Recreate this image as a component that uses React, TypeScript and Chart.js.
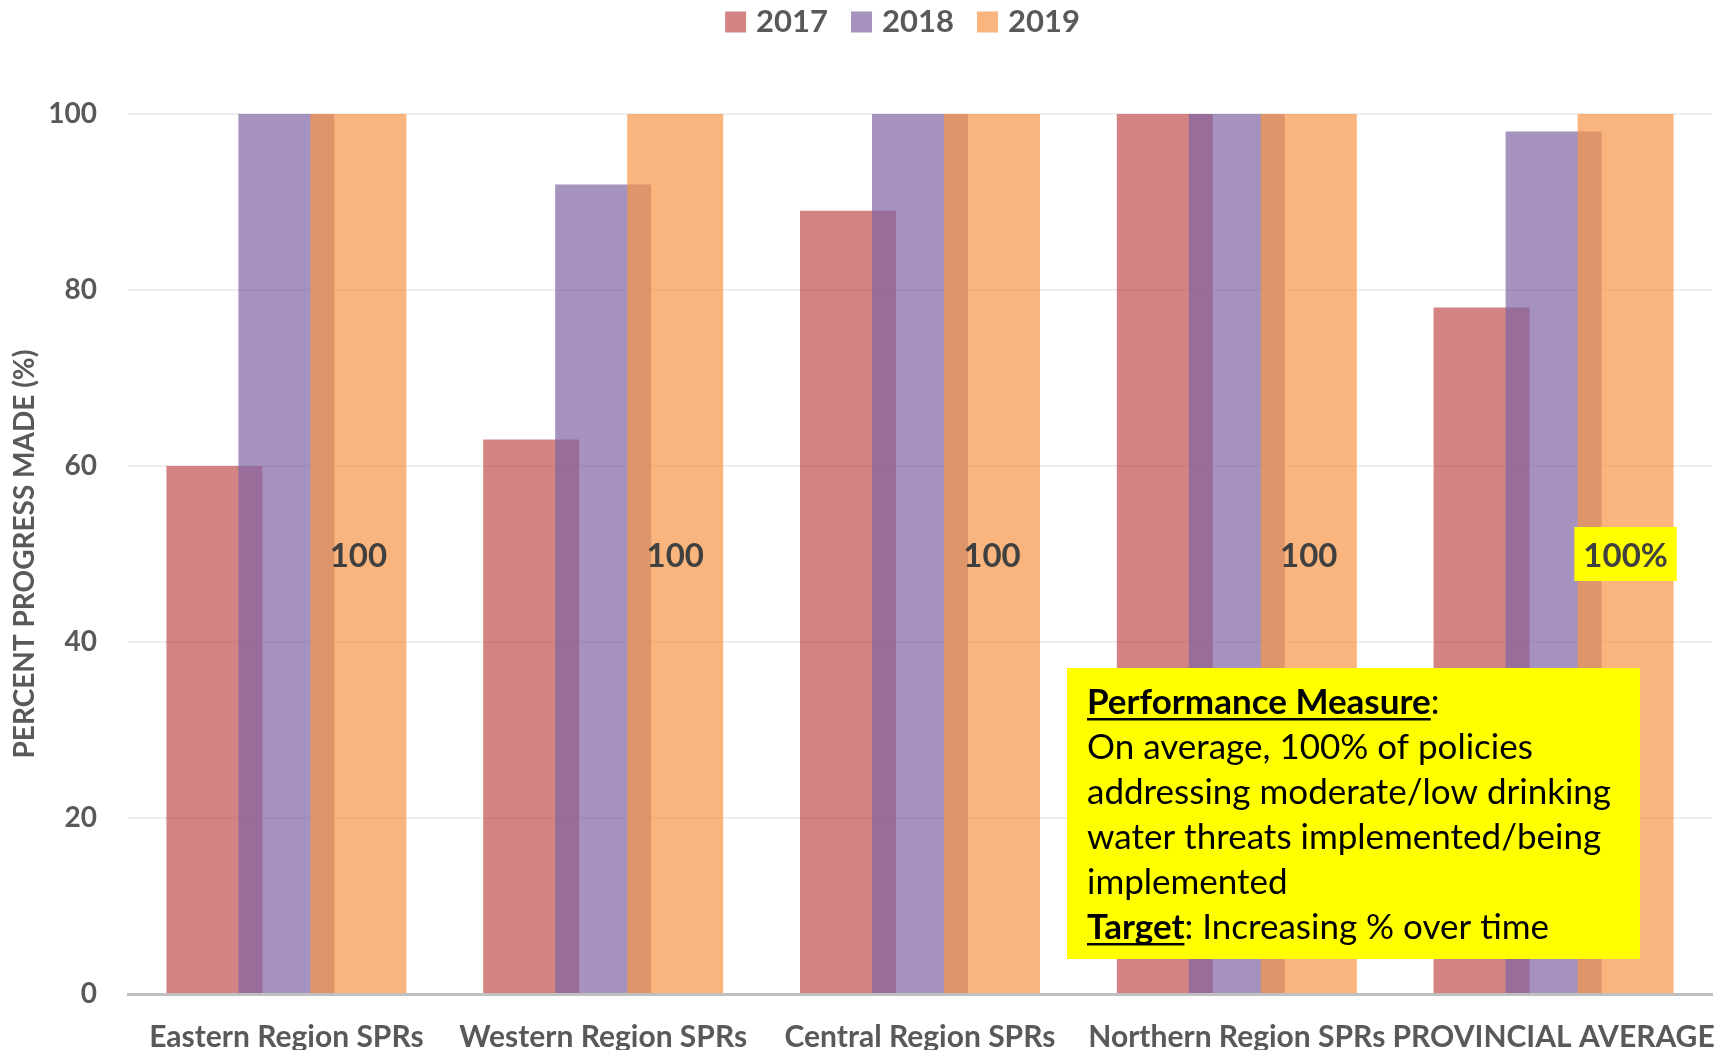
import React, { useEffect, useRef } from 'react';
import { Chart, registerables } from 'chart.js';

Chart.register(...registerables);

// ---------- data ----------
const categories = [
  'Eastern Region SPRs',
  'Western Region SPRs',
  'Central Region SPRs',
  'Northern Region SPRs',
  'PROVINCIAL AVERAGE',
];
const seriesNames = ['2017', '2018', '2019'];
const values2017 = [60, 63, 89, 100, 78];
const values2018 = [100, 92, 100, 100, 98];
const values2019 = [100, 100, 100, 100, 100];
const labels2019 = ['100', '100', '100', '100', '100%'];
const highlight2019 = [false, false, false, false, true];
const yTicks = [0, 20, 40, 60, 80, 100];
const yTitle = 'PERCENT PROGRESS MADE (%)';

type Seg = { text: string; bold?: boolean; underline?: boolean };
const noteLines: Seg[][] = [
  [{ text: 'Performance Measure', bold: true, underline: true }, { text: ':' }],
  [{ text: 'On average, 100% of policies' }],
  [{ text: 'addressing moderate/low drinking' }],
  [{ text: 'water threats implemented/being' }],
  [{ text: 'implemented' }],
  [{ text: 'Target', bold: true, underline: true }, { text: ': Increasing % over time' }],
];

// ---------- styles ----------
const seriesColors = ['rgba(192,80,77,0.7)', 'rgba(128,100,162,0.7)', 'rgba(247,150,70,0.7)'];
const FONT = 'Lato';
const GRAY = '#595959';

const drawOrderPlugin = {
  id: 'drawOrder',
  beforeDatasetsDraw(chart: any) {
    const n = chart.data.datasets.length;
    for (let i = 0; i < n; i++) {
      const meta = chart.getDatasetMeta(i);
      if (!meta.hidden) meta.controller.draw();
    }
    return false;
  },
};

const overlayPlugin = {
  id: 'overlay',
  afterDraw(chart: any) {
    const ctx: CanvasRenderingContext2D = chart.ctx;
    const yScale = chart.scales.y;

    // value labels on the 2019 series
    const meta = chart.getDatasetMeta(2);
    ctx.save();
    ctx.font = `bold 33px ${FONT}`;
    ctx.textAlign = 'center';
    ctx.textBaseline = 'middle';
    meta.data.forEach((bar: any, i: number) => {
      const cx = bar.x;
      const cy = yScale.getPixelForValue(values2019[i] / 2);
      const txt = labels2019[i];
      if (highlight2019[i]) {
        const w = ctx.measureText(txt).width;
        ctx.fillStyle = '#FFFF00';
        ctx.fillRect(cx - w / 2 - 9, cy - 27, w + 18, 54);
      }
      ctx.fillStyle = '#404040';
      ctx.fillText(txt, cx, cy + 2);
    });
    ctx.restore();

    // legend
    ctx.save();
    ctx.font = `bold 31px ${FONT}`;
    ctx.textBaseline = 'middle';
    ctx.textAlign = 'left';
    const box = 21, gapText = 10, gapItem = 23;
    const widths = seriesNames.map((s) => ctx.measureText(s).width);
    let total = 0;
    widths.forEach((w, i) => {
      total += box + gapText + w + (i < widths.length - 1 ? gapItem : 0);
    });
    let x = 902.5 - total / 2;
    seriesNames.forEach((s, i) => {
      ctx.fillStyle = '#ffffff';
      ctx.fillRect(x, 11.5, box, box);
      ctx.fillStyle = seriesColors[i];
      ctx.fillRect(x, 11.5, box, box);
      ctx.fillStyle = GRAY;
      ctx.fillText(s, x + box + gapText, 22);
      x += box + gapText + widths[i] + gapItem;
    });
    ctx.restore();

    // annotation box
    ctx.save();
    ctx.fillStyle = '#FFFF00';
    ctx.fillRect(1067, 668, 573, 291);
    ctx.fillStyle = '#000000';
    ctx.textBaseline = 'alphabetic';
    ctx.textAlign = 'left';
    const baseY = 714;
    const lineH = 45;
    noteLines.forEach((line, li) => {
      let tx = 1087;
      const by = baseY + li * lineH;
      line.forEach((seg) => {
        ctx.font = `${seg.bold ? 'bold ' : ''}35px ${FONT}`;
        const w = ctx.measureText(seg.text).width;
        ctx.fillText(seg.text, tx, by);
        if (seg.underline) {
          ctx.fillRect(tx, by + 4, w, 2.5);
        }
        tx += w;
      });
    });
    ctx.restore();
  },
};

export default function App() {
  const ref = useRef<HTMLCanvasElement>(null);

  useEffect(() => {
    document.body.style.margin = '0';
    let chart: Chart | null = null;
    let cancelled = false;

    const make = () => {
      if (cancelled || !ref.current) return;
      const datasets = [values2017, values2018, values2019].map((vals, i) => ({
        label: seriesNames[i],
        data: vals,
        backgroundColor: seriesColors[i],
        borderWidth: 0,
        categoryPercentage: 0.6818,
        barPercentage: 1.3333,
      }));
      chart = new Chart(ref.current, {
        type: 'bar',
        data: { labels: categories, datasets },
        options: {
          animation: false,
          responsive: false,
          devicePixelRatio: 1,
          layout: { padding: { top: 114, right: 7, left: 0, bottom: 0 } },
          plugins: {
            legend: { display: false },
            tooltip: { enabled: false },
          },
          scales: {
            x: {
              z: 1,
              grid: { display: false, drawTicks: false },
              border: { display: true, color: '#BFBFBF', width: 3 },
              ticks: {
                color: GRAY,
                font: { family: FONT, weight: 'bold', size: 30 },
                padding: 25,
                maxRotation: 0,
                autoSkip: false,
              },
              afterFit: (s: any) => {
                s.height = 56;
                s.paddingLeft = 0;
                s.paddingRight = 0;
              },
            },
            y: {
              min: 0,
              max: 100,
              afterBuildTicks: (s: any) => {
                s.ticks = yTicks.map((v) => ({ value: v }));
              },
              grid: { color: '#EEEEEE', lineWidth: 2, drawTicks: false },
              border: { display: false },
              ticks: {
                color: GRAY,
                font: { family: FONT, weight: 'bold', size: 28 },
                padding: 31,
              },
              title: {
                display: true,
                text: yTitle,
                color: GRAY,
                font: { family: FONT, weight: 'bold', size: 28 },
                padding: { top: 8, bottom: 0 },
              },
              afterFit: (s: any) => {
                s.width = 128;
              },
            },
          },
        },
        plugins: [drawOrderPlugin, overlayPlugin],
      } as any);
    };

    Promise.all([
      document.fonts.load(`bold 30px ${FONT}`),
      document.fonts.load(`35px ${FONT}`),
    ]).then(make, make);

    return () => {
      cancelled = true;
      if (chart) chart.destroy();
    };
  }, []);

  return (
    <div style={{ position: 'absolute', left: 0, top: 0, width: 1719, height: 1050 }}>
      <canvas ref={ref} width={1719} height={1050} style={{ display: 'block' }} />
    </div>
  );
}
